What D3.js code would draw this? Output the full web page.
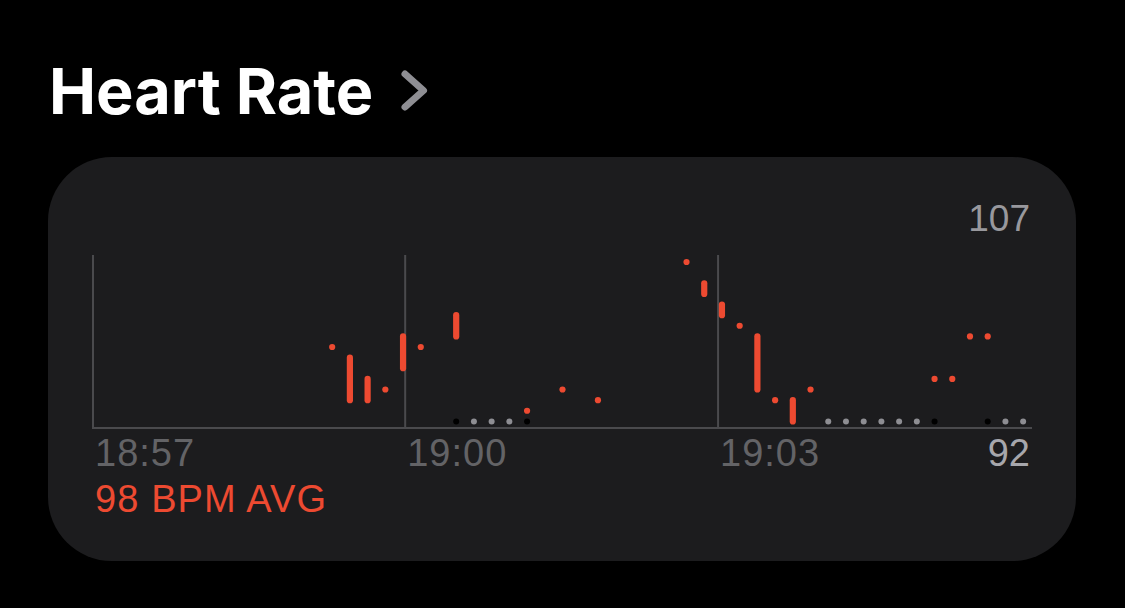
<!DOCTYPE html>
<html>
<head>
<meta charset="utf-8">
<script src="https://cdn.jsdelivr.net/npm/d3@7/dist/d3.min.js"></script>
<style>
  html, body { margin: 0; padding: 0; background: #000; }
  svg { display: block; }
</style>
</head>
<body>
<svg id="chart" width="1125" height="608"></svg>
<script>
// ---- Data ----
const title = "Heart Rate";
const avgLabel = "98 BPM AVG";
const yMin = 92;
const yMax = 107;
const binCount = 53;
const timeTicks = ["18:57", "19:00", "19:03"];
const timeTickBins = [0, 17.62, 35.28];

// heart-rate readings per 10-second bin: bin index, low, high
const rangeBins = [13, 14, 15, 16, 17, 18, 20, 24, 26, 28, 33, 34, 35, 36, 37, 38, 39, 40, 47, 48, 49, 50];
const rangeLow  = [99, 94, 94, 95, 97, 99, 100, 93, 95, 94, 107, 104, 102, 101, 95, 94, 92, 95, 96, 96, 100, 100];
const rangeHigh = [99, 98, 96, 95, 100, 99, 102, 93, 95, 94, 107, 105, 103, 101, 100, 94, 94, 95, 96, 96, 100, 100];

// baseline indicator dots
const grayDotBins  = [21, 22, 23, 41, 42, 43, 44, 45, 46, 51, 52];
const blackDotBins = [20, 24, 47, 50];

// ---- Drawing ----
const svg = d3.select("#chart");
const red = "#ED4A31";

svg.append("rect").attr("width", 1125).attr("height", 608).attr("fill", "#000");

// card
svg.append("rect")
  .attr("x", 48).attr("y", 157).attr("width", 1028).attr("height", 404)
  .attr("rx", 64).attr("ry", 64)
  .attr("fill", "#1C1C1E");

// title
svg.append("text")
  .attr("x", 49).attr("y", 114)
  .attr("font-family", "Inter, 'Liberation Sans', Arial, sans-serif")
  .attr("font-weight", 700)
  .attr("font-size", 63)
  .attr("fill", "#fff")
  .text(title);

// chevron
svg.append("path")
  .attr("d", d3.line()([[405, 74], [423.5, 90.5], [405, 107]]))
  .attr("fill", "none")
  .attr("stroke", "#8E8E93")
  .attr("stroke-width", 7)
  .attr("stroke-linecap", "round")
  .attr("stroke-linejoin", "round");

const plotLeft = 93, plotRight = 1032, plotTop = 255, plotBottom = 428;

const x = d3.scaleLinear().domain([0, binCount]).range([plotLeft, plotRight]);
const y = d3.scaleLinear().domain([yMin, yMax]).range([421.4, 262]);
const cx = b => x(b + 0.5);

const g = svg.append("g");

// gridlines
const gridColor = "#4A4A4D";
timeTickBins.forEach(b => {
  g.append("line")
    .attr("x1", x(b)).attr("x2", x(b))
    .attr("y1", plotTop).attr("y2", plotBottom)
    .attr("stroke", gridColor).attr("stroke-width", 2);
});
g.append("line")
  .attr("x1", plotLeft - 1).attr("x2", plotRight)
  .attr("y1", plotBottom).attr("y2", plotBottom)
  .attr("stroke", gridColor).attr("stroke-width", 2);

// time labels
const labelFont = "'Liberation Sans', Arial, sans-serif";
timeTicks.forEach((t, i) => {
  g.append("text")
    .attr("x", x(timeTickBins[i]) + 2)
    .attr("y", 466)
    .attr("font-family", labelFont)
    .attr("font-size", 38)
    .attr("letter-spacing", 1)
    .attr("fill", "#636366")
    .text(t);
});

// y labels
g.append("text")
  .attr("x", 1030).attr("y", 231)
  .attr("text-anchor", "end")
  .attr("font-family", labelFont)
  .attr("font-size", 37)
  .attr("fill", "#98989D")
  .text(yMax);
g.append("text")
  .attr("x", 1030).attr("y", 466)
  .attr("text-anchor", "end")
  .attr("font-family", labelFont)
  .attr("font-size", 38)
  .attr("fill", "#A7A7AC")
  .text(yMin);

// avg label
g.append("text")
  .attr("x", 95).attr("y", 512)
  .attr("font-family", labelFont)
  .attr("font-size", 38)
  .attr("letter-spacing", 1.1)
  .attr("fill", red)
  .text(avgLabel);

// baseline indicator dots
g.selectAll(".gdot").data(grayDotBins).join("circle")
  .attr("cx", cx).attr("cy", y(yMin)).attr("r", 3)
  .attr("fill", "#8E8E93");
g.selectAll(".bdot").data(blackDotBins).join("circle")
  .attr("cx", cx).attr("cy", y(yMin)).attr("r", 3)
  .attr("fill", "#000");

// heart-rate ranges
const readings = rangeBins.map((b, i) => ({ b, lo: rangeLow[i], hi: rangeHigh[i] }));
g.selectAll(".hr").data(readings).join("line")
  .attr("x1", d => cx(d.b)).attr("x2", d => cx(d.b))
  .attr("y1", d => y(d.lo)).attr("y2", d => y(d.hi))
  .attr("stroke", red)
  .attr("stroke-width", 6.2)
  .attr("stroke-linecap", "round");
</script>
</body>
</html>
